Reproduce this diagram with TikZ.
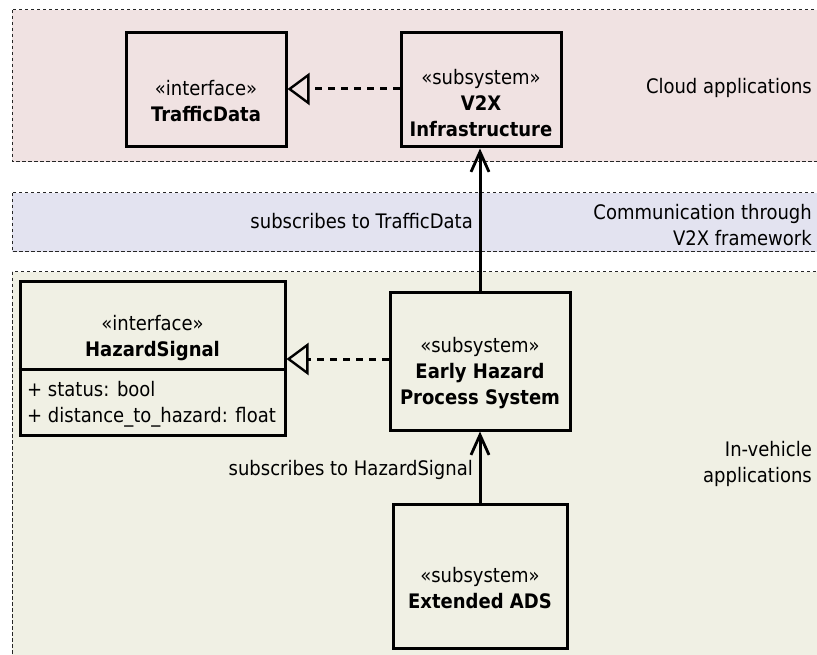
\documentclass[tikz,border=0pt]{standalone}
\usepackage{fontspec}
\setmainfont{DejaVu Sans}[FakeStretch=0.9]
\usetikzlibrary{arrows.meta}

\definecolor{cloudbg}{RGB}{240,226,226}
\definecolor{commbg}{RGB}{227,227,240}
\definecolor{carbg}{RGB}{240,240,228}

\tikzset{
  zone/.style={draw=black!85, line width=1pt, dash pattern=on 3.5pt off 2.5pt},
  umlbox/.style={draw, line width=3pt, inner sep=0pt},
  txt/.style={inner sep=0pt, align=center, font=\fontsize{20}{26}\selectfont},
  realize/.style={line width=3pt, dash pattern=on 7pt off 6pt,
    -{Triangle[open, length=22pt, width=32pt, line width=2.4pt]}},
  uses/.style={line width=3pt,
    -{Straight Barb[length=20pt, width=18pt, line width=2.8pt]}},
}

\begin{document}
\begin{tikzpicture}[x=1pt, y=-1pt]
\useasboundingbox (0,0) rectangle (817,655);
\clip (0,0) rectangle (817,655);
\fill[white] (0,0) rectangle (817,655);

% layers
\draw[zone, fill=cloudbg] (12,10) rectangle (840,162);
\draw[zone, fill=commbg] (12,193) rectangle (840,252);
\draw[zone, fill=carbg] (12,272) rectangle (840,680);

\node[txt, anchor=east, align=right] (lcloud) at (812,88) {Cloud applications};
\node[txt, anchor=east, align=right] (lcomm) at (812,225) {Communication through\\V2X framework};
\node[txt, anchor=east, align=right] (lcar) at (812,464) {In-vehicle\\applications};

% blocks
\node[umlbox, minimum width=160pt, minimum height=114pt] (td) at (206,90) {};
\node[txt] (tdtext) at (206,101) {«interface»\\\textbf{TrafficData}};

\node[umlbox, minimum width=160pt, minimum height=114pt] (v2x) at (481,90) {};
\node[txt] (v2xtext) at (481,103) {«subsystem»\\\textbf{V2X}\\\textbf{Infrastructure}};

\node[umlbox, minimum width=265pt, minimum height=153pt] (hs) at (152.5,358.5) {};
\draw[line width=3pt] (hs.west |- 0,369) -- (hs.east |- 0,369);
\node[txt] (hstext) at (152.5,338) {«interface»\\\textbf{HazardSignal}};
\node[txt, anchor=west, align=left] (hsattr) at (27,404.5) {+ status: bool\\+ distance\_to\_hazard: float};

\node[umlbox, minimum width=180pt, minimum height=137pt] (ehps) at (480,361.5) {};
\node[txt] (ehpstext) at (480,373) {«subsystem»\\\textbf{Early Hazard}\\\textbf{Process System}};

\node[umlbox, minimum width=174pt, minimum height=144pt] (ads) at (480,576) {};
\node[txt] (adstext) at (480,588) {«subsystem»\\\textbf{Extended ADS}};

% relations
\draw[realize] (v2x.west |- 0,89) -- (td.east |- 0,89);
\draw[realize] (ehps.west |- 0,359) -- (hs.east |- 0,359);
\draw[uses] (ehps.north) -- (ehps.north |- v2x.south);
\draw[uses] (ads.north) -- (ehps.south);

\node[txt, anchor=east] (sub1) at (473,221) {subscribes to TrafficData};
\node[txt, anchor=east] (sub2) at (473,470) {subscribes to HazardSignal};
\end{tikzpicture}
\end{document}
